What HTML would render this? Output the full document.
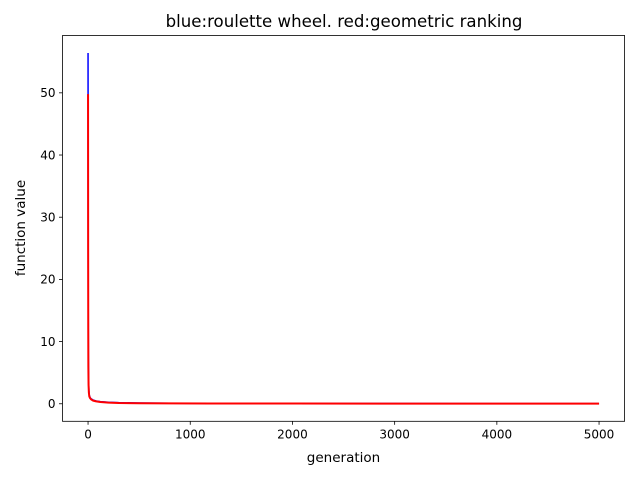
<!DOCTYPE html>
<html><head><meta charset="utf-8"><style>
html,body{margin:0;padding:0;background:#fff;}
svg text{font-family:"DejaVu Sans","Liberation Sans",sans-serif;}
</style></head><body>
<svg id="chart" width="640" height="480" viewBox="0 0 640 480" xmlns="http://www.w3.org/2000/svg">
<rect width="640" height="480" fill="#fff"/>
<g id="plot"></g>
<text x="344" y="27" text-anchor="middle" font-size="16.6">blue:roulette wheel. red:geometric ranking</text>
<text x="343.5" y="462" text-anchor="middle" font-size="13.5">generation</text>
<text transform="translate(25,228) rotate(-90)" text-anchor="middle" font-size="13.5">function value</text>
</svg>
<script>
const gens = [0,1,2,3,5,8,12,20,30,50,80,120,200,300,500,800,1200,2000,3000,4000,5000];
const blueVals = [56.4,30,15,8,4,2.2,1.4,1.0,0.8,0.6,0.45,0.35,0.25,0.18,0.12,0.09,0.07,0.05,0.04,0.03,0.03];
const redVals = [49.8,25,12,6,3,1.8,1.2,0.9,0.7,0.5,0.38,0.28,0.18,0.12,0.08,0.06,0.05,0.04,0.03,0.03,0.02];
const xTicks = [0,1000,2000,3000,4000,5000];
const yTicks = [0,10,20,30,40,50];
const L=62.5,R=624.6,T=35.5,B=421.3;
const xMin=-250,xMax=5250,yMin=-2.82,yMax=59.22;
const sx=v=>L+(v-xMin)/(xMax-xMin)*(R-L);
const sy=v=>B-(v-yMin)/(yMax-yMin)*(B-T);
const NS="http://www.w3.org/2000/svg";
const plot=document.getElementById('plot');
function mk(tag,attrs){const e=document.createElementNS(NS,tag);for(const k in attrs)e.setAttribute(k,attrs[k]);plot.appendChild(e);return e;}
function series(vals,color,name,w){
  const p=mk('polyline',{points:gens.map((g,i)=>sx(g)+','+sy(vals[i])).join(' '),fill:'none',stroke:color,'stroke-width':w,'stroke-linejoin':'round'});
  
  
}
series(blueVals,'#0000ff','blue-series-roulette',1.5);
series(redVals,'#ff0000','red-series-geometric',2);
xTicks.forEach(t=>{
  const l=mk('line',{x1:sx(t),x2:sx(t),y1:B,y2:B+3.5,stroke:'#000','stroke-width':0.8});
  
  
  const tx=mk('text',{x:sx(t),y:B+17,'text-anchor':'middle','font-size':12});
  tx.textContent=t;
  
  
});
yTicks.forEach(t=>{
  const l=mk('line',{x1:L-3.5,x2:L,y1:sy(t),y2:sy(t),stroke:'#000','stroke-width':0.8});
  
  
  const tx=mk('text',{x:L-7,y:sy(t)+4.3,'text-anchor':'end','font-size':12});
  tx.textContent=t;
  
  
});
const fr=mk('rect',{x:L,y:T,width:R-L,height:B-T,fill:'none',stroke:'#000','stroke-width':0.8});


</script>
</body></html>
